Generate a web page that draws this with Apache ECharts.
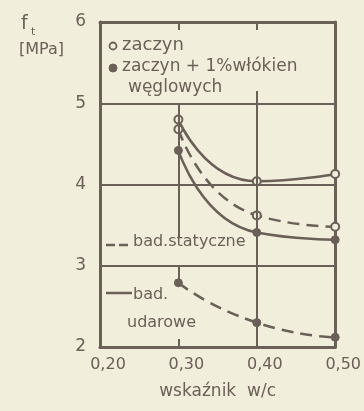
<!DOCTYPE html>
<html>
<head>
<meta charset="utf-8">
<script src="https://cdn.jsdelivr.net/npm/echarts@6/dist/echarts.min.js"></script>
<style>
html,body{margin:0;padding:0;background:#f2eedc;}
#c{width:364px;height:411px;}
</style>
</head>
<body>
<div id="c"></div>
<script>
// ---- data ----
var wc = [0.30, 0.40, 0.50];
var zaczynSolid = [4.80, 4.04, 4.13];
var zaczynDashed = [4.68, 3.62, 3.48];
var fiberSolid = [4.42, 3.41, 3.32];
var fiberDashed = [2.79, 2.30, 2.12];
var xTickValues = [0.20, 0.30, 0.40, 0.50];
var xTickLabels = ['0,20', '0,30', '0,40', '0,50'];
var yTickLabels = ['2', '3', '4', '5', '6'];

var INK = '#6b6058';
var BG = '#f2eedc';
var FONT = 'DejaVu Sans';

function pairs(vals) { return wc.map(function (x, i) { return [x, vals[i]]; }); }

function xLabel(v) {
  for (var i = 0; i < xTickValues.length; i++) {
    if (Math.abs(xTickValues[i] - v) < 1e-6) return xTickLabels[i];
  }
  return '';
}

var openItem = { color: BG, borderColor: INK, borderWidth: 2 };
var fillItem = { color: INK, borderColor: INK, borderWidth: 1 };

var chart = echarts.init(document.getElementById('c'), null, { renderer: 'canvas' });
chart.setOption({
  backgroundColor: BG,
  animation: false,
  grid: { left: 100, right: 26, top: 22, bottom: 64 },
  xAxis: [{
    type: 'value', min: 0.2, max: 0.5, interval: 0.1, position: 'bottom',
    axisLine: { show: true, lineStyle: { color: INK, width: 3 } },
    axisTick: { show: true, inside: true, length: 8, lineStyle: { color: INK, width: 2 } },
    axisLabel: { formatter: xLabel, color: INK, fontFamily: FONT, fontSize: 16, margin: 10, padding: [0, 0, 0, 16] },
    splitLine: { show: false },
    name: 'wskaźnik  w/c', nameLocation: 'middle', nameGap: 36,
    nameTextStyle: { color: INK, fontFamily: FONT, fontSize: 17 }
  }, {
    type: 'value', min: 0.2, max: 0.5, interval: 0.1, position: 'top',
    axisLine: { show: true, lineStyle: { color: INK, width: 3 } },
    axisTick: { show: true, inside: true, length: 8, lineStyle: { color: INK, width: 2 } },
    axisLabel: { show: false }, splitLine: { show: false }
  }],
  yAxis: [{
    type: 'value', min: 2, max: 6, interval: 1, position: 'left',
    axisLine: { show: true, lineStyle: { color: INK, width: 3 } },
    axisTick: { show: false },
    axisLabel: { color: INK, fontFamily: FONT, fontSize: 17, margin: 14,
      formatter: function (v) { return yTickLabels[Math.round(v) - 2]; } },
    splitLine: { show: true, lineStyle: { color: INK, width: 2 } }
  }, {
    type: 'value', min: 2, max: 6, interval: 1, position: 'right',
    axisLine: { show: true, lineStyle: { color: INK, width: 3 } },
    axisTick: { show: false }, axisLabel: { show: false }, splitLine: { show: false }
  }],
  series: [{
    name: 'grid-verticals', type: 'line', data: [], silent: true,
    markLine: {
      silent: true, symbol: 'none', label: { show: false },
      lineStyle: { color: INK, width: 2, type: 'solid' },
      data: [
        [{ coord: [0.3, 5] }, { coord: [0.3, 3.35] }],
        [{ coord: [0.3, 3] }, { coord: [0.3, 2.79] }],
        [{ coord: [0.4, 5.15] }, { coord: [0.4, 2] }]
      ]
    }
  }, {
    name: 'zaczyn (ciągła)', type: 'line', data: pairs(zaczynSolid), smooth: 0.6,
    symbol: 'circle', symbolSize: 8, itemStyle: openItem,
    lineStyle: { color: INK, width: 2.5 }, z: 3
  }, {
    name: 'zaczyn (przerywana)', type: 'line', data: pairs(zaczynDashed), smooth: 0.6,
    symbol: 'circle', symbolSize: 8, itemStyle: openItem,
    lineStyle: { color: INK, width: 2.5, type: [12, 7] }, z: 3
  }, {
    name: 'zaczyn + włókna (ciągła)', type: 'line', data: pairs(fiberSolid), smooth: 0.6,
    symbol: 'circle', symbolSize: 8, itemStyle: fillItem,
    lineStyle: { color: INK, width: 2.5 }, z: 3
  }, {
    name: 'zaczyn + włókna (przerywana)', type: 'line', data: pairs(fiberDashed), smooth: 0.6,
    symbol: 'circle', symbolSize: 8, itemStyle: fillItem,
    lineStyle: { color: INK, width: 2.5, type: [12, 7] }, z: 3
  }],
  graphic: [
    { type: 'text', left: 21, top: 15, style: { text: 'f', font: '19px ' + FONT, fill: INK } },
    { type: 'text', left: 31, top: 27, style: { text: 't', font: '11px ' + FONT, fill: INK } },
    { type: 'text', left: 19, top: 42, style: { text: '[MPa]', font: '16px ' + FONT, fill: INK } },
    { type: 'circle', shape: { cx: 113, cy: 46, r: 3.5 }, style: { fill: BG, stroke: INK, lineWidth: 1.8 } },
    { type: 'text', left: 122, top: 36, style: { text: 'zaczyn', font: '18px ' + FONT, fill: INK } },
    { type: 'circle', shape: { cx: 113, cy: 68, r: 4 }, style: { fill: INK, stroke: INK, lineWidth: 1 } },
    { type: 'text', left: 122, top: 58, style: { text: 'zaczyn + 1%włókien', font: '17px ' + FONT, fill: INK } },
    { type: 'text', left: 128, top: 79, style: { text: 'węglowych', font: '17px ' + FONT, fill: INK } },
    { type: 'line', shape: { x1: 106, y1: 245, x2: 131, y2: 245 }, style: { stroke: INK, lineWidth: 2.5, lineDash: [9, 4] } },
    { type: 'text', left: 133, top: 234, style: { text: 'bad.statyczne', font: '16px ' + FONT, fill: INK } },
    { type: 'line', shape: { x1: 106, y1: 293, x2: 132, y2: 293 }, style: { stroke: INK, lineWidth: 2.5 } },
    { type: 'text', left: 133, top: 287, style: { text: 'bad.', font: '16px ' + FONT, fill: INK } },
    { type: 'text', left: 127, top: 315, style: { text: 'udarowe', font: '16px ' + FONT, fill: INK } }
  ]
});
</script>
</body>
</html>
